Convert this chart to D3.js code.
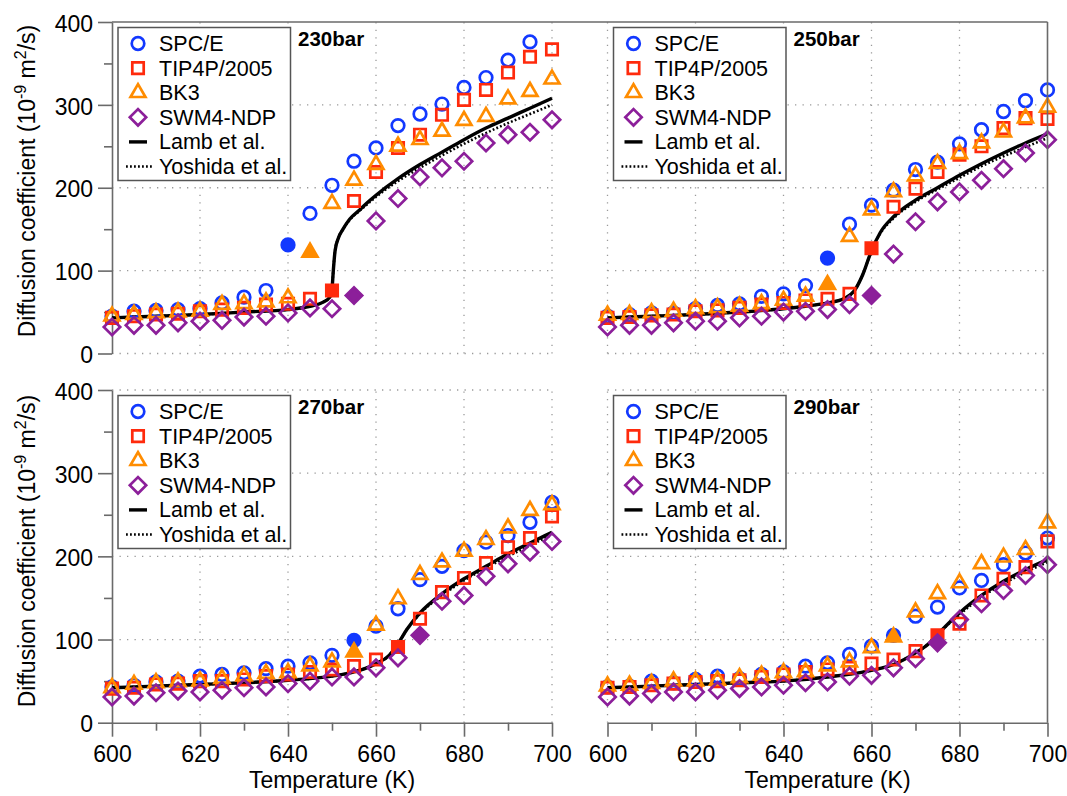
<!DOCTYPE html>
<html>
<head>
<meta charset="utf-8">
<script src="https://cdn.jsdelivr.net/npm/d3@7"></script>
<style>
  body { margin: 0; background: #fff; }
  svg { display: block; }
  text { font-family: "Liberation Sans", Arial, Helvetica, sans-serif; fill: #000; }
</style>
</head>
<body>
<svg id="fig" width="1067" height="796"></svg>
<script>
// Temperatures of the simulated state points (K)
const temps = [600, 605, 610, 615, 620, 625, 630, 635, 640, 645, 650,
               655, 660, 665, 670, 675, 680, 685, 690, 695, 700];

const seriesNames  = ["SPC/E", "TIP4P/2005", "BK3", "SWM4-NDP"];
const seriesColors = ["#1238ff", "#ff2a0c", "#ff8c00", "#8c1f9a"];
const seriesShapes = ["circle", "square", "triangle", "diamond"];
const lineNames    = ["Lamb et al.", "Yoshida et al."];

const xTicks      = [600, 620, 640, 660, 680, 700];
const xMinorTicks = [610, 630, 650, 670, 690];
const yTicks      = [0, 100, 200, 300, 400];
const yMinorTicks = [50, 150, 250, 350];

// ---- 230 bar ----
const spce230  = [45, 51, 52, 53, 54, 61, 68, 76, 131, 169, 203, 232, 248, 275, 289, 301, 321, 333, 354, 376, null];
const tip4p230 = [43, 45, 47, 48, 51, 53, 55, 59, 60, 66, 76, 184, 219, 248, 264, 288, 306, 318, 339, 358, 367];
const bk3_230  = [45, 47, 49, 50, 51, 59, 60, 62, 67, 122, 181, 209, 228, 250, 258, 268, 281, 286, 307, 316, 331];
const swm4_230 = [32, 34, 34, 37, 39, 40, 44, 45, 49, 55, 54, 70, 160, 187, 213, 224, 232, 254, 264, 267, 282];
const filled230 = [640, 650, 645, 655];
const lambT230   = [600, 610, 620, 630, 640, 645, 648, 649.5, 650, 650.3, 650.7, 651.5, 652.5, 654, 656, 658, 660, 665, 670, 675, 680, 685, 690, 695, 700];
const lamb230    = [43, 45, 47, 50, 53, 57, 62, 68, 78, 100, 124, 140, 150, 162, 172, 182, 191, 211, 228, 243, 258, 272, 284, 296, 308];
const yoshida230 = [43, 45, 47, 50, 53, 57, 62, 68, 78, 100, 124, 140, 150, 161, 171, 180, 189, 208, 224, 239, 253, 266, 278, 289, 300];

// ---- 250 bar ----
const spce250  = [45, 47, 49, 49, 54, 58, 60, 69, 72, 82, 115, 156, 179, 197, 222, 231, 253, 270, 292, 305, 318];
const tip4p250 = [43, 44, 46, 47, 51, 52, 55, 59, 61, 64, 66, 72, 127, 177, 199, 219, 240, 250, 272, 284, 283];
const bk3_250  = [46, 47, 49, 51, 54, 55, 57, 60, 64, 69, 83, 141, 173, 195, 214, 229, 241, 254, 267, 284, 297];
const swm4_250 = [32, 34, 34, 37, 39, 39, 43, 45, 50, 51, 53, 59, 70, 120, 159, 183, 195, 209, 223, 242, 258];
const filled250 = [650, 660, 650, 660];
const lambT250   = [600, 610, 620, 630, 640, 645, 650, 654, 656, 658, 660, 662, 665, 670, 675, 680, 685, 690, 695, 700];
const lamb250    = [43, 45, 47, 50, 54, 57, 61, 67, 75, 95, 124, 146, 165, 185, 200, 215, 229, 242, 254, 265];
const yoshida250 = [43, 45, 47, 50, 54, 57, 61, 67, 75, 95, 124, 145, 163, 183, 198, 212, 226, 238, 249, 260];

// ---- 270 bar ----
const spce270  = [43, 45, 49, 50, 56, 58, 60, 65, 68, 72, 81, 99, 116, 137, 172, 188, 207, 217, 225, 241, 265];
const tip4p270 = [41, 42, 46, 47, 50, 50, 52, 56, 58, 61, 64, 68, 76, 91, 125, 157, 174, 192, 211, 222, 248];
const bk3_270  = [42, 46, 48, 49, 50, 53, 56, 59, 60, 68, 73, 85, 117, 149, 178, 193, 206, 220, 234, 255, 262];
const swm4_270 = [31, 32, 36, 38, 37, 39, 42, 43, 47, 50, 55, 55, 66, 78, 105, 146, 153, 176, 191, 205, 218];
const filled270 = [655, 665, 655, 670];
const lambT270   = [600, 610, 620, 630, 640, 650, 655, 660, 663, 665, 667, 670, 675, 680, 685, 690, 695, 700];
const lamb270    = [42, 44, 46, 48, 51, 56, 61, 71, 81, 95, 112, 132, 155, 173, 188, 203, 216, 229];
const yoshida270 = [42, 44, 46, 48, 51, 56, 61, 71, 81, 95, 112, 131, 153, 171, 186, 200, 213, 226];

// ---- 290 bar ----
const spce290  = [43, 44, 50, 48, 52, 56, 53, 58, 61, 68, 72, 82, 92, 105, 128, 139, 162, 171, 190, 204, 222];
const tip4p290 = [42, 43, 45, 47, 49, 50, 51, 55, 58, 61, 64, 66, 71, 76, 86, 105, 119, 153, 173, 187, 218];
const bk3_290  = [44, 45, 47, 50, 50, 51, 54, 57, 60, 61, 68, 73, 90, 103, 133, 155, 168, 191, 199, 208, 240];
const swm4_290 = [31, 32, 35, 37, 37, 39, 41, 43, 45, 48, 49, 56, 57, 66, 77, 96, 124, 143, 159, 177, 190];
const filled290 = [665, 675, 665, 675];
const lambT290   = [600, 610, 620, 630, 640, 650, 660, 665, 670, 673, 675, 678, 680, 685, 690, 695, 700];
const lamb290    = [42, 44, 46, 48, 50, 55, 63, 70, 84, 95, 106, 122, 132, 153, 170, 184, 196];
const yoshida290 = [42, 44, 46, 48, 50, 55, 63, 70, 84, 95, 106, 121, 130, 151, 167, 181, 193];

const panels = [
  { label: "230bar", col: 0, row: 0, series: [spce230, tip4p230, bk3_230, swm4_230], filled: filled230, lineT: lambT230, lines: [lamb230, yoshida230] },
  { label: "250bar", col: 1, row: 0, series: [spce250, tip4p250, bk3_250, swm4_250], filled: filled250, lineT: lambT250, lines: [lamb250, yoshida250] },
  { label: "270bar", col: 0, row: 1, series: [spce270, tip4p270, bk3_270, swm4_270], filled: filled270, lineT: lambT270, lines: [lamb270, yoshida270] },
  { label: "290bar", col: 1, row: 1, series: [spce290, tip4p290, bk3_290, swm4_290], filled: filled290, lineT: lambT290, lines: [lamb290, yoshida290] }
];

// Panel geometry
const colX = [[112, 552], [607.5, 1047.5]];
const rowY = [[353.5, 22], [722.7, 390]];
const axisColor = "#6a6a6a";
const gridColor = "#9a9a9a";
const fontStack = "'Liberation Sans', Arial, Helvetica, sans-serif";

const svg = d3.select("#fig");

// Marker path generators
function markerPath(shape) {
  switch (shape) {
    case "circle":   return d3.symbol(d3.symbolCircle, 124)();
    case "square":   return d3.symbol(d3.symbolSquare, 130)();
    case "triangle": return d3.symbol(d3.symbolTriangle, 96)();
    case "diamond":  return d3.symbol(d3.symbolSquare, 134)();
  }
}
function markerRotate(shape) { return shape === "diamond" ? " rotate(45)" : ""; }

panels.forEach(p => {
  const x = d3.scaleLinear().domain([600, 700]).range(colX[p.col]);
  const y = d3.scaleLinear().domain([0, 400]).range(rowY[p.row]);
  const g = svg.append("g");

  // Dotted grid
  const gx = xTicks.filter(t => !(p.col === 0 && t === 600) && !(p.col === 1 && t === 700));
  const gy = yTicks.filter(t => !(p.row === 0 && t === 400) && !(p.row === 1 && t === 0));
  g.append("g").selectAll("line").data(gx).join("line")
    .attr("x1", d => x(d)).attr("x2", d => x(d))
    .attr("y1", y(0)).attr("y2", y(400))
    .attr("stroke", gridColor).attr("stroke-width", 1.3).attr("stroke-dasharray", "1.3,6.2");
  g.append("g").selectAll("line").data(gy).join("line")
    .attr("x1", x(600)).attr("x2", x(700))
    .attr("y1", d => y(d)).attr("y2", d => y(d))
    .attr("stroke", gridColor).attr("stroke-width", 1.3).attr("stroke-dasharray", "1.3,6.2");

  // Axes (left column: y axis, bottom row: x axis)
  if (p.col === 0) {
    const ax = g.append("g").attr("transform", `translate(${x(600)},0)`)
      .call(d3.axisLeft(y).tickValues(yTicks).tickSize(14).tickSizeOuter(0).tickPadding(5));
    ax.append("g").call(d3.axisLeft(y).tickValues(yMinorTicks).tickSize(8).tickFormat(""))
      .select(".domain").remove();
    ax.selectAll("path,line").attr("stroke", axisColor).attr("stroke-width", 1.6);
    ax.selectAll("text").attr("font-size", 23).attr("dy", "0.4em")
      .attr("font-family", fontStack).attr("fill", "#000");
  }
  if (p.row === 1) {
    const ax = g.append("g").attr("transform", `translate(0,${y(0)})`)
      .call(d3.axisBottom(x).tickValues(xTicks).tickSize(14).tickSizeOuter(0).tickPadding(5));
    ax.append("g").call(d3.axisBottom(x).tickValues(xMinorTicks).tickSize(8).tickFormat(""))
      .select(".domain").remove();
    ax.selectAll("path,line").attr("stroke", axisColor).attr("stroke-width", 1.6);
    ax.selectAll("text").attr("font-size", 23).attr("dy", "0.9em")
      .attr("font-family", fontStack).attr("fill", "#000");
  }

  // Reference correlations
  const lineGen = d3.line().x(d => x(d[0])).y(d => y(d[1])).curve(d3.curveMonotoneX);
  g.append("path").datum(p.lineT.map((t, i) => [t, p.lines[0][i]]))
    .attr("d", lineGen).attr("fill", "none").attr("stroke", "#000").attr("stroke-width", 3.4);
  g.append("path").datum(p.lineT.map((t, i) => [t, p.lines[1][i]]))
    .attr("d", lineGen).attr("fill", "none").attr("stroke", "#000").attr("stroke-width", 2.6)
    .attr("stroke-dasharray", "1.8,2.2");

  // Simulation markers
  p.series.forEach((vals, si) => {
    const shape = seriesShapes[si], color = seriesColors[si];
    const pts = temps.map((t, i) => ({ t, v: vals[i] })).filter(d => d.v !== null);
    g.append("g").selectAll("path").data(pts).join("path")
      .attr("d", markerPath(shape))
      .attr("transform", d => `translate(${x(d.t)},${y(d.v)})${markerRotate(shape)}`)
      .attr("fill", d => d.t === p.filled[si] ? color : "none")
      .attr("stroke", color).attr("stroke-width", 2.7);
  });

  // Legend
  const lx = x(600) + 6, ly = y(400) + 5.5;
  const lg = g.append("g").attr("transform", `translate(${lx},${ly})`);
  lg.append("rect").attr("width", 172.5).attr("height", 153)
    .attr("fill", "#fff").attr("stroke", "#555").attr("stroke-width", 1.5);
  const rowH = 24.6, firstRow = 16;
  seriesNames.forEach((name, si) => {
    const cy = firstRow + si * rowH;
    lg.append("path").attr("d", markerPath(seriesShapes[si]))
      .attr("transform", `translate(20,${cy})${markerRotate(seriesShapes[si])}`)
      .attr("fill", "none").attr("stroke", seriesColors[si]).attr("stroke-width", 2.7);
    lg.append("text").attr("x", 41).attr("y", cy + 7.5).attr("font-size", 21.5).text(name);
  });
  lineNames.forEach((name, li) => {
    const cy = firstRow + (4 + li) * rowH;
    lg.append("line").attr("x1", li === 0 ? 11 : 8).attr("x2", li === 0 ? 29 : 34)
      .attr("y1", cy).attr("y2", cy).attr("stroke", "#000")
      .attr("stroke-width", li === 0 ? 3.4 : 2.6)
      .attr("stroke-dasharray", li === 0 ? null : "1.8,2.2");
    lg.append("text").attr("x", 41).attr("y", cy + 7.5).attr("font-size", 21.5).text(name);
  });

  // Pressure label
  g.append("text").attr("x", x(600) + 186).attr("y", y(400) + 24)
    .attr("font-size", 20.5).attr("font-weight", "bold").text(p.label);
});

// Outer frame: top and right edges
svg.append("line").attr("x1", colX[0][0]).attr("x2", colX[1][1]).attr("y1", rowY[0][1]).attr("y2", rowY[0][1])
  .attr("stroke", axisColor).attr("stroke-width", 1.6);
svg.append("line").attr("x1", colX[1][1]).attr("x2", colX[1][1]).attr("y1", rowY[0][1]).attr("y2", rowY[1][0])
  .attr("stroke", axisColor).attr("stroke-width", 1.6);

// Axis titles
[0, 1].forEach(c => {
  svg.append("text").attr("x", (colX[c][0] + colX[c][1]) / 2).attr("y", 788)
    .attr("text-anchor", "middle").attr("font-size", 23).text("Temperature (K)");
});
[181, 551].forEach(cy => {
  const t = svg.append("text").attr("transform", `translate(35,${cy}) rotate(-90)`)
    .attr("text-anchor", "middle").attr("font-size", 23);
  t.append("tspan").text("Diffusion coefficient (10");
  t.append("tspan").attr("font-size", 16).attr("dy", -9).text("-9");
  t.append("tspan").attr("dy", 9).text(" m");
  t.append("tspan").attr("font-size", 16).attr("dy", -9).text("2");
  t.append("tspan").attr("dy", 9).text("/s)");
});
</script>
</body>
</html>
